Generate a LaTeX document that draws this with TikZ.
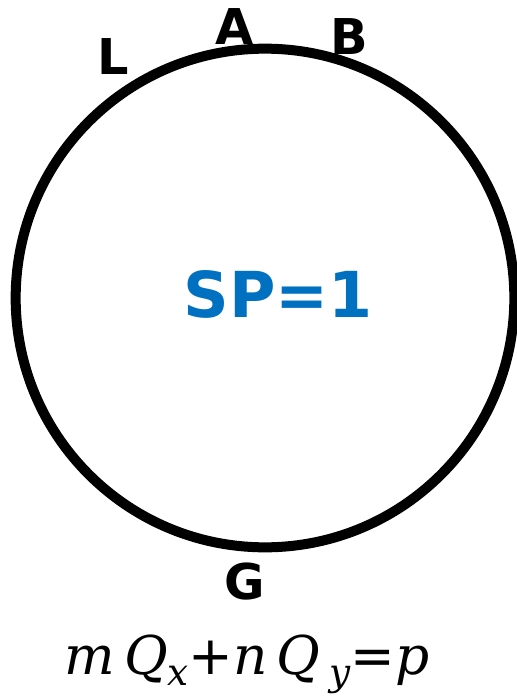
\documentclass[tikz,border=0pt]{standalone}
\usepackage{fontspec}
\setmainfont{DejaVu Sans}
\newfontfamily\formfont{DejaVu Serif}
\usetikzlibrary{positioning}
\definecolor{SpBlue}{RGB}{0,112,192}

\begin{document}
\begin{tikzpicture}[x=0.75pt, y=-0.75pt,
    ptlabel/.style={font=\fontsize{37}{40}\selectfont\bfseries, inner sep=0pt}]
  \useasboundingbox (0,0) rectangle (517,696);
  \node[draw, line width=7.5pt, circle, minimum size=374pt, inner sep=0pt] (ring) at (265,298) {};
  \node[ptlabel] (A) at (235,27) {A};
  \node[ptlabel] (B) at (349,37) {B};
  \node[ptlabel] (L) at (113,57) {L};
  \node[ptlabel] (G) at (245,582) {G};
  \node[font=\fontsize{47.5}{50}\selectfont\bfseries, text=SpBlue, inner sep=0pt] (sp) at (278,294) {SP=1};
  \node[font=\fontsize{40}{44}\selectfont, inner sep=0pt, anchor=base] (eq) at (247,674)
    {\formfont\itshape m\,Q\raisebox{-0.22em}{\fontsize{28}{30}\selectfont x}{\upshape\rmfamily+}n\,Q\,\raisebox{-0.22em}{\fontsize{28}{30}\selectfont y}{\upshape\rmfamily=}p};
\end{tikzpicture}
\end{document}
